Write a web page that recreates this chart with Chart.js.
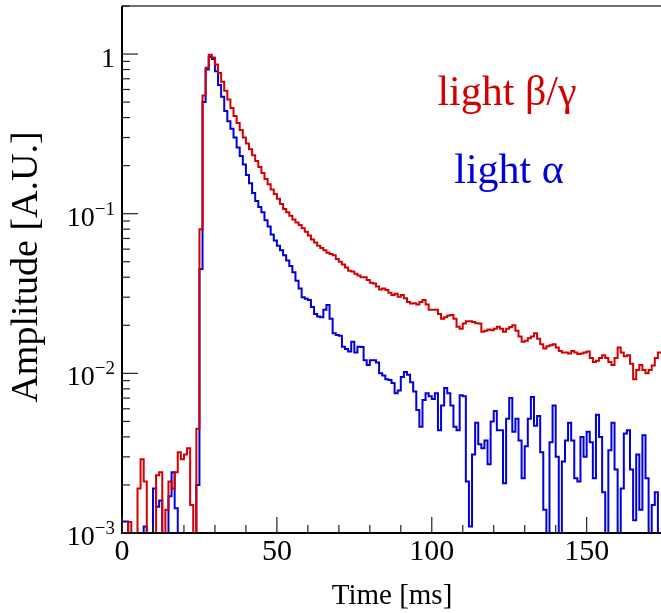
<!DOCTYPE html>
<html>
<head>
<meta charset="utf-8">
<script src="https://cdn.jsdelivr.net/npm/chart.js@4"></script>
<style>
html, body { margin: 0; padding: 0; background: #fff; }
#wrap { width: 661px; height: 613px; }
</style>
</head>
<body>
<div id="wrap"><canvas id="pulse-canvas" width="661" height="613"></canvas></div>
<script>
// pulse shapes, 1 ms bins starting at 0
var binWidth = 1;

var lightBetaGamma = [
  0.001, 0.001, 0.00117, 0.001, 0.001, 0.0019, 0.0029, 0.0021, 0.001, 0.001,
  0.001, 0.0023, 0.0024, 0.001, 0.0014, 0.0021, 0.0019, 0.0024, 0.0032, 0.0029,
  0.0031, 0.0034, 0.0015, 0.001, 0.0045, 0.08, 0.55, 0.82, 0.99, 0.95,
  0.86, 0.76, 0.67, 0.59, 0.52, 0.46, 0.41, 0.37, 0.335, 0.30,
  0.275, 0.253, 0.232, 0.214, 0.196, 0.18, 0.165, 0.153, 0.142, 0.133,
  0.124, 0.115, 0.107, 0.102, 0.097, 0.092, 0.088, 0.085, 0.081, 0.077,
  0.073, 0.069, 0.066, 0.063, 0.061, 0.059, 0.057, 0.056, 0.055, 0.052,
  0.050, 0.048, 0.046, 0.044, 0.0435, 0.042, 0.041, 0.040, 0.040, 0.0385,
  0.037, 0.0365, 0.035, 0.0335, 0.034, 0.0333, 0.032, 0.031, 0.0315, 0.0302,
  0.031, 0.0295, 0.028, 0.0274, 0.0275, 0.027, 0.028, 0.0288, 0.027, 0.025,
  0.025, 0.025, 0.0235, 0.022, 0.0225, 0.023, 0.0232, 0.022, 0.0196, 0.019,
  0.0205, 0.0212, 0.0212, 0.021, 0.0206, 0.0205, 0.0182, 0.0185, 0.0188, 0.0186,
  0.019, 0.0196, 0.019, 0.0182, 0.019, 0.0195, 0.02, 0.0185, 0.017, 0.0158,
  0.016, 0.0166, 0.017, 0.0178, 0.0165, 0.0152, 0.0143, 0.0148, 0.015, 0.0152,
  0.0145, 0.0138, 0.0135, 0.0135, 0.0133, 0.0138, 0.0135, 0.0132, 0.0133, 0.0135,
  0.0137, 0.0125, 0.0118, 0.012, 0.0125, 0.013, 0.0125, 0.0118, 0.0113, 0.0125,
  0.0145, 0.0135, 0.0128, 0.013, 0.0115, 0.0092, 0.0105, 0.0113, 0.0105, 0.01,
  0.0105, 0.0112, 0.0125, 0.0135
];

var lightAlpha = [
  0.00118, 0.00118, 0.001, 0.001, 0.001, 0.001, 0.001, 0.0011, 0.001, 0.001,
  0.0019, 0.00146, 0.0016, 0.001, 0.001, 0.0017, 0.0024, 0.00143, 0.001, 0.001,
  0.001, 0.001, 0.001, 0.001, 0.002, 0.045, 0.5, 0.8, 0.96, 0.93,
  0.78, 0.64, 0.54, 0.44, 0.38, 0.34, 0.30, 0.26, 0.23, 0.203,
  0.175, 0.155, 0.135, 0.12, 0.11, 0.102, 0.091, 0.083, 0.074, 0.068,
  0.063, 0.059, 0.055, 0.051, 0.047, 0.043, 0.038, 0.034, 0.030, 0.0293,
  0.0288, 0.026, 0.0235, 0.0227, 0.0225, 0.025, 0.0268, 0.022, 0.0178, 0.0174,
  0.0172, 0.0147, 0.0142, 0.0137, 0.0158, 0.0135, 0.0147, 0.0146, 0.0121, 0.0113,
  0.0121, 0.0121, 0.0117, 0.010, 0.0097, 0.0092, 0.0091, 0.0087, 0.0075, 0.0078,
  0.0095, 0.0102, 0.0098, 0.0088, 0.0077, 0.0059, 0.00463, 0.0068, 0.0075, 0.0072,
  0.0069, 0.0075, 0.0044, 0.0063, 0.0081, 0.0075, 0.0063, 0.00463, 0.0044, 0.0073,
  0.0072, 0.0021, 0.0011, 0.0031, 0.0049, 0.0036, 0.0034, 0.0038, 0.0027, 0.005,
  0.0058, 0.0044, 0.0044, 0.00205, 0.0052, 0.007, 0.0043, 0.0052, 0.0038, 0.0022,
  0.0035, 0.0052, 0.0071, 0.0047, 0.0054, 0.0032, 0.0014, 0.001, 0.0037, 0.0063,
  0.003, 0.001, 0.0028, 0.0038, 0.0049, 0.0038, 0.0022, 0.0021, 0.004, 0.003,
  0.0043, 0.0037, 0.0022, 0.0055, 0.004, 0.0018, 0.001, 0.0033, 0.0049, 0.0025,
  0.001, 0.0019, 0.0042, 0.0044, 0.0025, 0.0012, 0.0031, 0.0014, 0.0041, 0.0022,
  0.001, 0.0015, 0.0018, 0.001
];

var xTickValues = [0, 50, 100, 150];
var xTickLabels = ['0', '50', '100', '150'];
var yTickValues = [0.001, 0.01, 0.1, 1];
var yTickExponents = ['\u22123', '\u22122', '\u22121', ''];

var xMin = 0, xMax = 174;
var yMin = 0.001, yMax = 2;

var SERIF = "'Liberation Serif', 'Times New Roman', 'DejaVu Serif', serif";
var RED = '#d40000';
var BLUE = '#0000d8';

function toSteps(values) {
  var pts = values.map(function (v, i) { return { x: i * binWidth, y: v }; });
  // close the last bin
  pts.push({ x: values.length * binWidth, y: values[values.length - 1] });
  return pts;
}

var rootStylePlugin = {
  id: 'rootStyle',
  afterDraw: function (chart) {
    var ctx = chart.ctx;
    var area = chart.chartArea;
    var xs = chart.scales.x;
    var ys = chart.scales.y;
    var i, d, px, py;

    ctx.save();

    // frame
    ctx.strokeStyle = '#444';
    ctx.lineWidth = 1.5;
    ctx.beginPath();
    ctx.moveTo(area.left, area.top);
    ctx.lineTo(area.right, area.top);
    ctx.stroke();

    ctx.strokeStyle = '#000';
    ctx.lineWidth = 2;
    ctx.beginPath();
    ctx.moveTo(area.left, area.top);
    ctx.lineTo(area.left, area.bottom);
    ctx.lineTo(area.right, area.bottom);
    ctx.stroke();

    // x ticks, drawn inwards
    ctx.lineWidth = 1.2;
    ctx.strokeStyle = '#222';
    for (i = 0; i * 10 <= xMax; i++) {
      var v = i * 10;
      px = xs.getPixelForValue(v);
      var len = (v % 50 === 0) ? 16 : 8;
      ctx.beginPath();
      ctx.moveTo(px, area.bottom);
      ctx.lineTo(px, area.bottom - len);
      ctx.stroke();
    }

    // y ticks (log decades + minors)
    for (d = -3; d <= 0; d++) {
      for (i = 1; i <= 9; i++) {
        var yv = i * Math.pow(10, d);
        if (yv > yMax) break;
        py = ys.getPixelForValue(yv);
        ctx.beginPath();
        ctx.moveTo(area.left, py);
        ctx.lineTo(area.left + (i === 1 ? 16 : 8), py);
        ctx.stroke();
      }
    }

    // x tick labels
    ctx.fillStyle = '#000';
    ctx.font = '30px ' + SERIF;
    ctx.textAlign = 'center';
    ctx.textBaseline = 'alphabetic';
    xTickValues.forEach(function (v, k) {
      ctx.fillText(xTickLabels[k], xs.getPixelForValue(v), area.bottom + 27);
    });

    // y tick labels, 10^n
    var rightEdge = area.left - 7;
    yTickValues.forEach(function (v, k) {
      py = ys.getPixelForValue(v);
      var sup = yTickExponents[k];
      ctx.textAlign = 'left';
      if (!sup) {
        ctx.font = '28px ' + SERIF;
        var w0 = ctx.measureText('1').width;
        ctx.fillText('1', rightEdge - w0, py + 13);
        return;
      }
      ctx.font = '19px ' + SERIF;
      var ws = ctx.measureText(sup).width;
      ctx.font = '28px ' + SERIF;
      var wb = ctx.measureText('10').width;
      ctx.fillText('10', rightEdge - ws - wb, py + 12);
      ctx.font = '19px ' + SERIF;
      ctx.fillText(sup, rightEdge - ws, py + 1);
    });

    // axis titles
    ctx.font = '29px ' + SERIF;
    ctx.textAlign = 'center';
    ctx.fillText('Time [ms]', 392, 604);

    ctx.save();
    ctx.translate(37, 267);
    ctx.rotate(-Math.PI / 2);
    ctx.font = '38px ' + SERIF;
    ctx.fillText('Amplitude [A.U.]', 0, 0);
    ctx.restore();

    // labels
    ctx.font = '42px ' + SERIF;
    ctx.fillStyle = RED;
    ctx.fillText('light \u03b2/\u03b3', 507, 105);
    ctx.fillStyle = BLUE;
    ctx.fillText('light \u03b1', 509, 183);

    ctx.restore();
  }
};

function initPulseChart() {
  var canvas = document.getElementById('pulse-canvas');
  var ctx = canvas.getContext('2d');

  new Chart(ctx, {
    type: 'line',
    data: {
      datasets: [{
        label: 'light \u03b2/\u03b3',
        data: toSteps(lightBetaGamma),
        borderColor: RED,
        borderWidth: 2,
        stepped: true,
        pointRadius: 0,
        fill: false
      }, {
        label: 'light \u03b1',
        data: toSteps(lightAlpha),
        borderColor: BLUE,
        borderWidth: 2,
        stepped: true,
        pointRadius: 0,
        fill: false
      }]
    },
    options: {
      responsive: false,
      animation: false,
      events: [],
      layout: { padding: { top: 6, left: 0, right: 0, bottom: 0 } },
      plugins: {
        legend: { display: false },
        tooltip: { enabled: false }
      },
      scales: {
        x: {
          type: 'linear',
          min: xMin,
          max: xMax,
          grid: { display: false },
          border: { display: false },
          ticks: { display: false },
          afterFit: function (scale) { scale.height = 80; }
        },
        y: {
          type: 'logarithmic',
          min: yMin,
          max: yMax,
          grid: { display: false },
          border: { display: false },
          ticks: { display: false },
          afterFit: function (scale) { scale.width = 122; }
        }
      }
    },
    plugins: [rootStylePlugin]
  });
}

initPulseChart();
</script>
</body>
</html>
